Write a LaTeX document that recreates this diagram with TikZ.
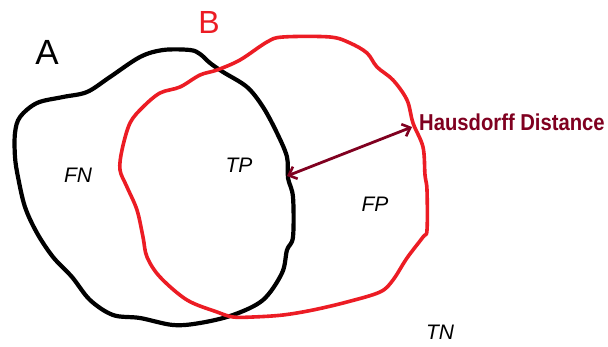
\documentclass[tikz,border=0pt]{standalone}
\usepackage{fontspec}
\setmainfont{Liberation Sans}
\usetikzlibrary{arrows.meta}
\definecolor{regionA}{RGB}{0,0,0}
\definecolor{regionB}{RGB}{236,28,36}
\definecolor{hdred}{RGB}{128,0,32}
\tikzset{
  blobA/.style={draw=regionA, line width=4.2pt, line join=round},
  blobB/.style={draw=regionB, line width=3.6pt, line join=round},
  setlabel/.style={inner sep=0pt, font=\fontsize{35}{35}\selectfont},
  cell/.style={inner sep=0pt, font=\itshape\fontsize{21}{21}\selectfont},
  hdarrow/.style={draw=hdred, line width=2.8pt,
    {Straight Barb[length=7pt,width=13pt,line width=2.6pt]}-{Straight Barb[length=7pt,width=13pt,line width=2.6pt]}},
}
\begin{document}
\begin{tikzpicture}[x=1pt,y=-1pt]
\useasboundingbox (0,0) rectangle (608,347);
\fill[white] (0,0) rectangle (608,347);

% set A (ground truth)
\draw[blobA] plot[smooth cycle, tension=0.55] coordinates {
  (163,50) (190,50) (200,54) (210,63) (223,72) (247,87) (263,107) (277,133)
  (287,157) (288,178) (293,197) (293,237) (287,250) (282,273) (263,300)
  (233,315) (200,323) (173,325) (140,318) (113,315) (90,300) (72,277)
  (53,257) (37,233) (25,207) (18,177) (15,157) (15,133) (20,117) (37,103)
  (63,97) (87,92) (110,77) (140,57)};

% set B (segmentation)
\draw[blobB] plot[smooth cycle, tension=0.55] coordinates {
  (283,37) (330,37) (350,43) (367,53) (377,67) (393,80) (407,100) (413,123)
  (423,147) (425,175) (427,190) (427,230) (423,237) (407,258) (393,280)
  (380,292) (347,302) (313,310) (283,315) (253,317) (233,317) (217,312)
  (187,300) (160,277) (147,257) (143,237) (137,210) (127,187) (120,170)
  (122,150) (130,123) (143,107) (160,93) (180,87) (200,75) (217,70)
  (240,60) (267,42)};

% set names
\node[setlabel, text=regionA] (labA) at (47,52) {A};
\node[setlabel, text=regionB, font=\fontsize{32}{32}\selectfont] (labB) at (209,22) {B};

% confusion regions
\node[cell] (fn) at (78,175) {FN};
\node[cell] (tp) at (239,165) {TP};
\node[cell] (fp) at (375,204) {FP};
\node[cell] (tn) at (440,332) {TN};

% Hausdorff distance between the two boundaries
\coordinate (hdA) at (287,176);
\coordinate (hdB) at (412,127);
\draw[hdarrow] (hdA) -- (hdB);
\node[anchor=west, inner sep=0pt, text=hdred] (hdlabel) at (419,122)
  {\scalebox{0.88}[1]{\bfseries\fontsize{23}{23}\selectfont Hausdorff Distance}};
\end{tikzpicture}
\end{document}
